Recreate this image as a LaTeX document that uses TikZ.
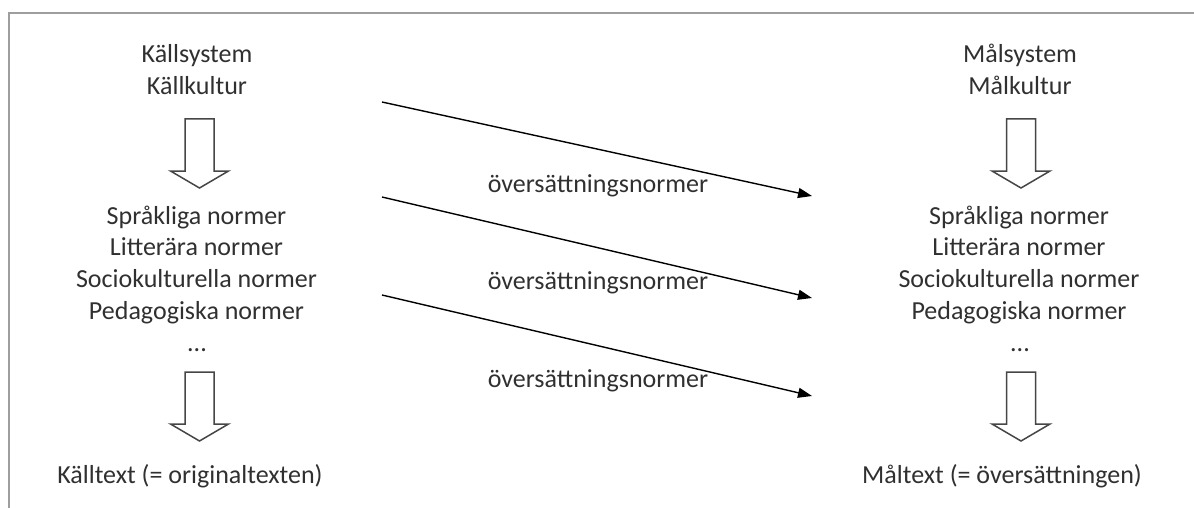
\documentclass[tikz,border=0pt]{standalone}
\usepackage{fontspec}
\setmainfont{Carlito}
\usetikzlibrary{arrows.meta}

\definecolor{inkgray}{RGB}{48,48,48}
\definecolor{framegray}{RGB}{158,158,158}
\definecolor{outlinegray}{RGB}{70,70,70}

\tikzset{
  txt/.style={inner sep=0pt, anchor=base, text=inkgray,
    font=\fontsize{26}{31}\selectfont},
  hollow/.style={draw=outlinegray, line width=1.5pt, fill=white, line join=miter},
  flow/.style={draw=black, line width=1.4pt, -{Triangle[length=14pt,width=10pt]}},
  border/.style={draw=framegray, line width=1.5pt},
  % open block arrow pointing down, origin at the middle of its top edge
  hollowdown/.pic={
    \draw[hollow] (-14.5,0) -- (14.5,0) -- (14.5,52) -- (29,52) -- (0,69)
      -- (-29,52) -- (-14.5,52) -- cycle;
  }
}

\begin{document}
\begin{tikzpicture}[x=1pt, y=-1pt]
  \useasboundingbox (0,0) rectangle (1194,508);

  % frame (top and left edges)
  \coordinate (fcorner) at (9,13);
  \coordinate (fright) at (1194,13);
  \coordinate (fbottom) at (9,508);
  \draw[border] (fbottom) -- (fcorner) -- (fright);

  % source side
  \node[txt] (ksys) at (197,63) {Källsystem};
  \node[txt] (kkul) at (197,95) {Källkultur};
  \pic at (199.5,119) {hollowdown};
  \node[txt] (ln1) at (196.5,224) {Språkliga normer};
  \node[txt] (ln2) at (196.5,255.7) {Litterära normer};
  \node[txt] (ln3) at (196.5,287.4) {Sociokulturella normer};
  \node[txt] (ln4) at (196.5,319) {Pedagogiska normer};
  \node[txt] (ldots) at (197,351) {...};
  \pic at (199.5,372) {hollowdown};
  \node[txt] (ktext) at (190,483) {Källtext (= originaltexten)};

  % target side
  \node[txt] (msys) at (1020,63) {Målsystem};
  \node[txt] (mkul) at (1020,95) {Målkultur};
  \pic at (1021,119) {hollowdown};
  \node[txt] (rn1) at (1019,224) {Språkliga normer};
  \node[txt] (rn2) at (1019,255.7) {Litterära normer};
  \node[txt] (rn3) at (1019,287.4) {Sociokulturella normer};
  \node[txt] (rn4) at (1019,319) {Pedagogiska normer};
  \node[txt] (rdots) at (1020,351) {...};
  \pic at (1021,372) {hollowdown};
  \node[txt] (mtext) at (1002,483) {Måltext (= översättningen)};

  % translation norms between the two systems
  \coordinate (s1) at (382,102);
  \coordinate (e1) at (812,196);
  \coordinate (s2) at (382,197);
  \coordinate (e2) at (812,298);
  \coordinate (s3) at (382,295);
  \coordinate (e3) at (812,396);
  \draw[flow] (s1) -- (e1);
  \draw[flow] (s2) -- (e2);
  \draw[flow] (s3) -- (e3);
  \node[txt] (on1) at (598,193) {översättningsnormer};
  \node[txt] (on2) at (598,289) {översättningsnormer};
  \node[txt] (on3) at (598,387) {översättningsnormer};
\end{tikzpicture}
\end{document}
